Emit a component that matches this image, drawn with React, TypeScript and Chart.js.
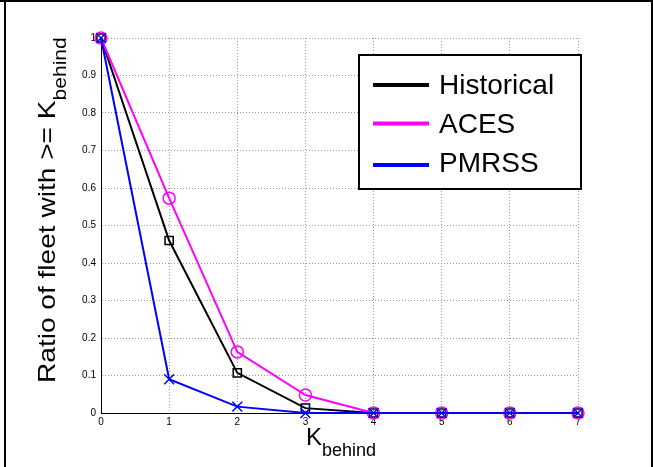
import React, { useEffect, useRef } from "react";
import { Chart, registerables } from "chart.js";

Chart.register(...registerables);

const kValues = [0, 1, 2, 3, 4, 5, 6, 7];
const historical = [1, 0.46, 0.107, 0.013, 0, 0, 0, 0];
const aces = [1, 0.573, 0.163, 0.048, 0, 0, 0, 0];
const pmrss = [1, 0.09, 0.017, 0, 0, 0, 0, 0];
const seriesNames = ["Historical", "ACES", "PMRSS"];
const seriesColors = ["#000000", "#ff00ff", "#0000ff"];
const xTicks = [0, 1, 2, 3, 4, 5, 6, 7];
const yTicks = [0, 0.1, 0.2, 0.3, 0.4, 0.5, 0.6, 0.7, 0.8, 0.9, 1];
const yTickLabels = ["0", "0.1", "0.2", "0.3", "0.4", "0.5", "0.6", "0.7", "0.8", "0.9", "1"];
const xLabelMain = "K";
const xLabelSub = "behind";
const yLabelMain = "Ratio of fleet with >= K";
const yLabelSub = "behind";

const W = 653;
const H = 467;

const decorPlugin = {
  id: "decor",
  afterDraw(chart: any) {
    const ctx = chart.ctx as CanvasRenderingContext2D;
    ctx.save();
    // outer frame (top, left, right)
    ctx.fillStyle = "#000";
    ctx.fillRect(0, 0, W, 2);
    ctx.fillRect(4, 0, 2, H);
    ctx.fillRect(651, 0, 2, H);

    // x axis title
    ctx.fillStyle = "#000";
    ctx.textBaseline = "alphabetic";
    ctx.textAlign = "left";
    ctx.font = '24px "Liberation Sans", Arial, sans-serif';
    ctx.fillText(xLabelMain, 306, 445);
    const kw = ctx.measureText(xLabelMain).width;
    ctx.font = '18px "Liberation Sans", Arial, sans-serif';
    ctx.fillText(xLabelSub, 306 + kw, 456);

    // y axis title
    ctx.save();
    ctx.translate(55, 383);
    ctx.rotate(-Math.PI / 2);
    ctx.scale(1.17, 1);
    ctx.font = '24px "Liberation Sans", Arial, sans-serif';
    ctx.fillText(yLabelMain, 0, 0);
    const mw = ctx.measureText(yLabelMain).width;
    ctx.font = '18px "Liberation Sans", Arial, sans-serif';
    ctx.fillText(yLabelSub, mw, 11);
    ctx.restore();

    // legend
    const bx = 359, by = 55, bw = 222, bh = 134;
    ctx.fillStyle = "#fff";
    ctx.fillRect(bx, by, bw, bh);
    ctx.strokeStyle = "#000";
    ctx.lineWidth = 2;
    ctx.strokeRect(bx, by, bw, bh);
    const lineYs = [85, 123.5, 165];
    const textYs = [93.5, 132.5, 172];
    ctx.font = '28px "Liberation Sans", Arial, sans-serif';
    seriesNames.forEach((name, i) => {
      ctx.strokeStyle = seriesColors[i];
      ctx.lineWidth = 4;
      ctx.beginPath();
      ctx.moveTo(373, lineYs[i]);
      ctx.lineTo(429, lineYs[i]);
      ctx.stroke();
      ctx.fillStyle = "#000";
      ctx.fillText(name, 439, textYs[i]);
    });
    ctx.restore();
  },
};

export default function App() {
  const ref = useRef<HTMLCanvasElement | null>(null);
  useEffect(() => {
    if (!ref.current) return;
    const mk = (vals: number[]) => kValues.map((k, i) => ({ x: k, y: vals[i] }));
    const chart = new Chart(ref.current, {
      type: "line",
      data: {
        datasets: [
          {
            label: seriesNames[0],
            data: mk(historical),
            borderColor: seriesColors[0],
            backgroundColor: "transparent",
            borderWidth: 2,
            pointStyle: "rect",
            pointRadius: 5.8,
            pointBorderWidth: 1.5,
            pointBorderColor: seriesColors[0],
            pointBackgroundColor: "transparent",
            tension: 0,
            clip: false as any,
            order: 2,
          },
          {
            label: seriesNames[1],
            data: mk(aces),
            borderColor: seriesColors[1],
            backgroundColor: "transparent",
            borderWidth: 2,
            pointStyle: "circle",
            pointRadius: 6,
            pointBorderWidth: 1.5,
            pointBorderColor: seriesColors[1],
            pointBackgroundColor: "transparent",
            tension: 0,
            clip: false as any,
            order: 1,
          },
          {
            label: seriesNames[2],
            data: mk(pmrss),
            borderColor: seriesColors[2],
            backgroundColor: "transparent",
            borderWidth: 2,
            pointStyle: "crossRot",
            pointRadius: 7,
            pointBorderWidth: 1.5,
            pointBorderColor: seriesColors[2],
            pointBackgroundColor: "transparent",
            tension: 0,
            clip: false as any,
            order: 0,
          },
        ],
      },
      options: {
        animation: false,
        responsive: false,
        devicePixelRatio: 1,
        layout: { padding: { top: 38, right: 75, left: 0, bottom: 0 } },
        plugins: { legend: { display: false }, tooltip: { enabled: false } },
        scales: {
          x: {
            type: "linear",
            min: 0,
            max: 7,
            afterFit: (s: any) => { s.height = 54; },
            afterBuildTicks: (s: any) => { s.ticks = xTicks.map((v) => ({ value: v })); },
            ticks: {
              padding: 3,
              color: "#000",
              font: { family: '"Liberation Sans", Arial, sans-serif', size: 10 },
              callback: (v: any) => String(v),
            },
            grid: { color: "#9a9a9a", lineWidth: 1, drawTicks: false },
            border: { display: true, color: "#000", width: 1, dash: [1, 2] },
          },
          y: {
            type: "linear",
            min: 0,
            max: 1,
            afterFit: (s: any) => { s.width = 101; },
            afterBuildTicks: (s: any) => { s.ticks = yTicks.map((v) => ({ value: v })); },
            ticks: {
              padding: 5,
              color: "#000",
              font: { family: '"Liberation Sans", Arial, sans-serif', size: 10 },
              callback: (v: any, i: number) => yTickLabels[i],
            },
            grid: { color: "#9a9a9a", lineWidth: 1, drawTicks: false },
            border: { display: true, color: "#000", width: 1, dash: [1, 2] },
          },
        },
      },
      plugins: [decorPlugin],
    });
    return () => chart.destroy();
  }, []);
  return (
    <div style={{ position: "fixed", left: 0, top: 0, width: W, height: H, background: "#fff" }}>
      <canvas ref={ref} width={W} height={H} style={{ display: "block", width: W, height: H }} />
    </div>
  );
}
